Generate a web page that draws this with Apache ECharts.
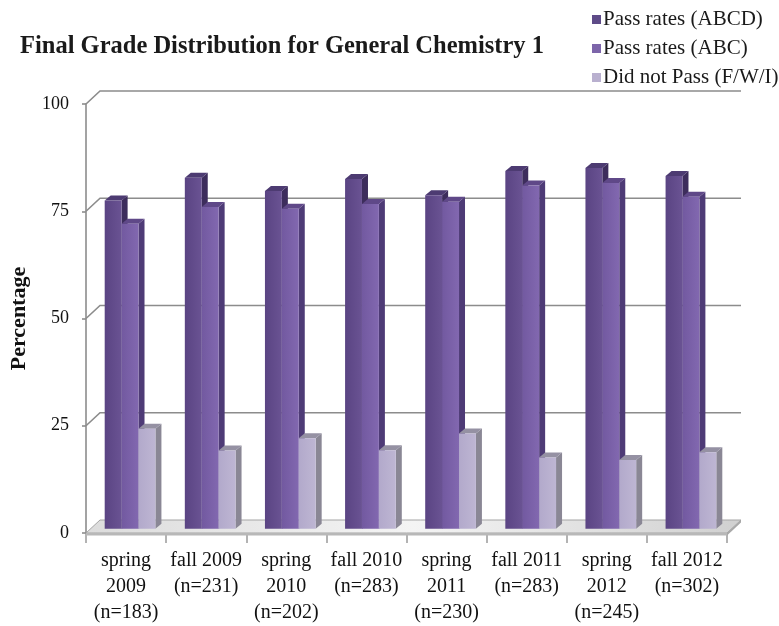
<!DOCTYPE html>
<html>
<head>
<meta charset="utf-8">
<script src="https://cdn.jsdelivr.net/npm/echarts@6/dist/echarts.min.js"></script>
<style>
html,body{margin:0;padding:0;background:#fff;}
#chart{width:779px;height:626px;}
</style>
</head>
<body>
<div id="chart"></div>
<script>
// ---- data ----
const categories = [
  "spring\n2009\n(n=183)", "fall 2009\n(n=231)", "spring\n2010\n(n=202)", "fall 2010\n(n=283)",
  "spring\n2011\n(n=230)", "fall 2011\n(n=283)", "spring\n2012\n(n=245)", "fall 2012\n(n=302)"
];
const passABCD = [76.5, 81.8, 78.7, 81.5, 77.7, 83.4, 84.1, 82.2];
const passABC  = [71.1, 75.0, 74.6, 75.7, 76.2, 80.0, 80.6, 77.4];
const didNotPass = [23.3, 18.2, 21.1, 18.3, 22.2, 16.6, 16.0, 17.8];
const yTicks = [0, 25, 50, 75, 100];
const seriesNames = ["Pass rates (ABCD)", "Pass rates (ABC)", "Did not Pass (F/W/I)"];

// ---- styles ----
const SERIF = '"Liberation Serif","Times New Roman",serif';
const palette = [
  {front: ['#5a4483', '#6a5393'], side: '#3d2d5c', top: '#4d3b72', legend: '#5e4b88'},
  {front: ['#7259a0', '#8268b0'], side: '#4e3b76', top: '#5f4888', legend: '#7d65aa'},
  {front: ['#b2a9cb', '#beb6d3'], side: '#8a8795', top: '#9591a3', legend: '#b9b0cf'}
];
const WALL_DX = 14, WALL_DY = -13;   // depth of the plot box
const BAR_DX = 6, BAR_DY = -5;       // depth of each bar
const BAR_SHIFT_X = 4, BAR_SHIFT_Y = -4.3; // bars sit a third into the depth

function barRenderer(idx) {
  const c = palette[idx];
  return function (params, api) {
    const cat = api.value(0), val = api.value(1);
    const base = api.coord([cat, 0]);
    const top = api.coord([cat, val]);
    const band = api.size([1, 0])[0];
    const bw = band * 0.211;
    const x0 = base[0] - 1.5 * bw + idx * bw + BAR_SHIFT_X;
    const x1 = x0 + bw;
    const yb = base[1] + BAR_SHIFT_Y;
    const yt = top[1] + BAR_SHIFT_Y;
    return {
      type: 'group',
      children: [
        {type: 'polygon', shape: {points: [[x1, yt], [x1 + BAR_DX, yt + BAR_DY], [x1 + BAR_DX, yb + BAR_DY], [x1, yb]]},
          style: {fill: c.side}},
        {type: 'polygon', shape: {points: [[x0, yt], [x0 + BAR_DX, yt + BAR_DY], [x1 + BAR_DX, yt + BAR_DY], [x1, yt]]},
          style: {fill: c.top}},
        {type: 'rect', shape: {x: x0, y: yt, width: bw, height: yb - yt},
          style: {fill: new echarts.graphic.LinearGradient(0, 0, 1, 0, [{offset: 0, color: c.front[0]}, {offset: 1, color: c.front[1]}])}}
      ]
    };
  };
}

function gridRenderer(params, api) {
  const v = api.value(0);
  const band = api.size([1, 0])[0];
  const left = api.coord([0, v])[0] - band / 2;
  const right = api.coord([categories.length - 1, v])[0] + band / 2;
  const y = api.coord([0, v])[1];
  const children = [];
  if (v > 0) {
    children.push({type: 'polyline', shape: {points: [[left, y], [left + WALL_DX, y + WALL_DY], [right + WALL_DX, y + WALL_DY]]},
      style: {stroke: '#8c8c8c', lineWidth: 1.6, fill: null}});
  } else {
    const yb = y;
    children.push({type: 'polygon', shape: {points: [[left, yb], [left + WALL_DX, yb + WALL_DY], [right + WALL_DX, yb + WALL_DY], [right, yb]]},
      style: {fill: new echarts.graphic.LinearGradient(0, 0, 1, 1, [{offset: 0, color: '#dcdcdc'}, {offset: 0.5, color: '#f4f4f4'}, {offset: 1, color: '#d0d0d0'}]),
        stroke: '#a5a5a5', lineWidth: 1}});
    children.push({type: 'polygon', shape: {points: [[left, yb], [right, yb], [right, yb + 2.5], [left, yb + 2.5]]},
      style: {fill: '#b8b8b8'}});
    children.push({type: 'polygon', shape: {points: [[right, yb], [right + WALL_DX, yb + WALL_DY], [right + WALL_DX, yb + WALL_DY + 2.5], [right, yb + 2.5]]},
      style: {fill: '#a8a8a8'}});
  }
  return {type: 'group', children: children};
}

const chart = echarts.init(document.getElementById('chart'), null, {renderer: 'canvas'});
chart.setOption({
  animation: false,
  backgroundColor: '#ffffff',
  title: {
    text: 'Final Grade Distribution for General Chemistry 1',
    left: 20, top: 34, padding: 0,
    textStyle: {fontFamily: SERIF, fontWeight: 'bold', fontSize: 24.5, color: '#1a1a1a'}
  },
  legend: {
    orient: 'vertical', left: 592, top: 9, padding: 0,
    itemWidth: 9, itemHeight: 9, itemGap: 8, icon: 'rect',
    data: seriesNames,
    textStyle: {fontFamily: SERIF, fontSize: 21, color: '#1a1a1a', padding: [0, 0, 0, -3]}
  },
  grid: {left: 83, right: 52, top: 104, bottom: 90, containLabel: false},
  xAxis: {
    type: 'category', data: categories, boundaryGap: true,
    axisLine: {show: false},
    axisTick: {show: true, length: 10, interval: 0, lineStyle: {color: '#9a9a9a', width: 1.5}},
    axisLabel: {interval: 0, margin: 15, fontFamily: SERIF, fontSize: 20, lineHeight: 26, color: '#111'}
  },
  yAxis: {
    type: 'value', min: 0, max: 100, interval: 25,
    name: 'Percentage', nameLocation: 'middle', nameRotate: 90, nameGap: 56,
    nameTextStyle: {fontFamily: SERIF, fontWeight: 'bold', fontSize: 22, color: '#111'},
    axisLine: {show: true, lineStyle: {color: '#8c8c8c', width: 1.6}},
    axisTick: {show: true, length: 4, lineStyle: {color: '#8c8c8c', width: 1.6}},
    axisLabel: {margin: 17, fontFamily: SERIF, fontSize: 18, color: '#111'},
    splitLine: {show: false}
  },
  series: [
    {type: 'custom', name: 'frame', silent: true, z: 1, renderItem: gridRenderer,
      data: yTicks.map(v => [v]), encode: {y: 0}},
    {type: 'custom', name: seriesNames[0], z: 2, renderItem: barRenderer(0), itemStyle: {color: palette[0].legend},
      data: passABCD.map((v, i) => [i, v]), encode: {x: 0, y: 1}},
    {type: 'custom', name: seriesNames[1], z: 2, renderItem: barRenderer(1), itemStyle: {color: palette[1].legend},
      data: passABC.map((v, i) => [i, v]), encode: {x: 0, y: 1}},
    {type: 'custom', name: seriesNames[2], z: 2, renderItem: barRenderer(2), itemStyle: {color: palette[2].legend},
      data: didNotPass.map((v, i) => [i, v]), encode: {x: 0, y: 1}}
  ]
});
</script>
</body>
</html>
